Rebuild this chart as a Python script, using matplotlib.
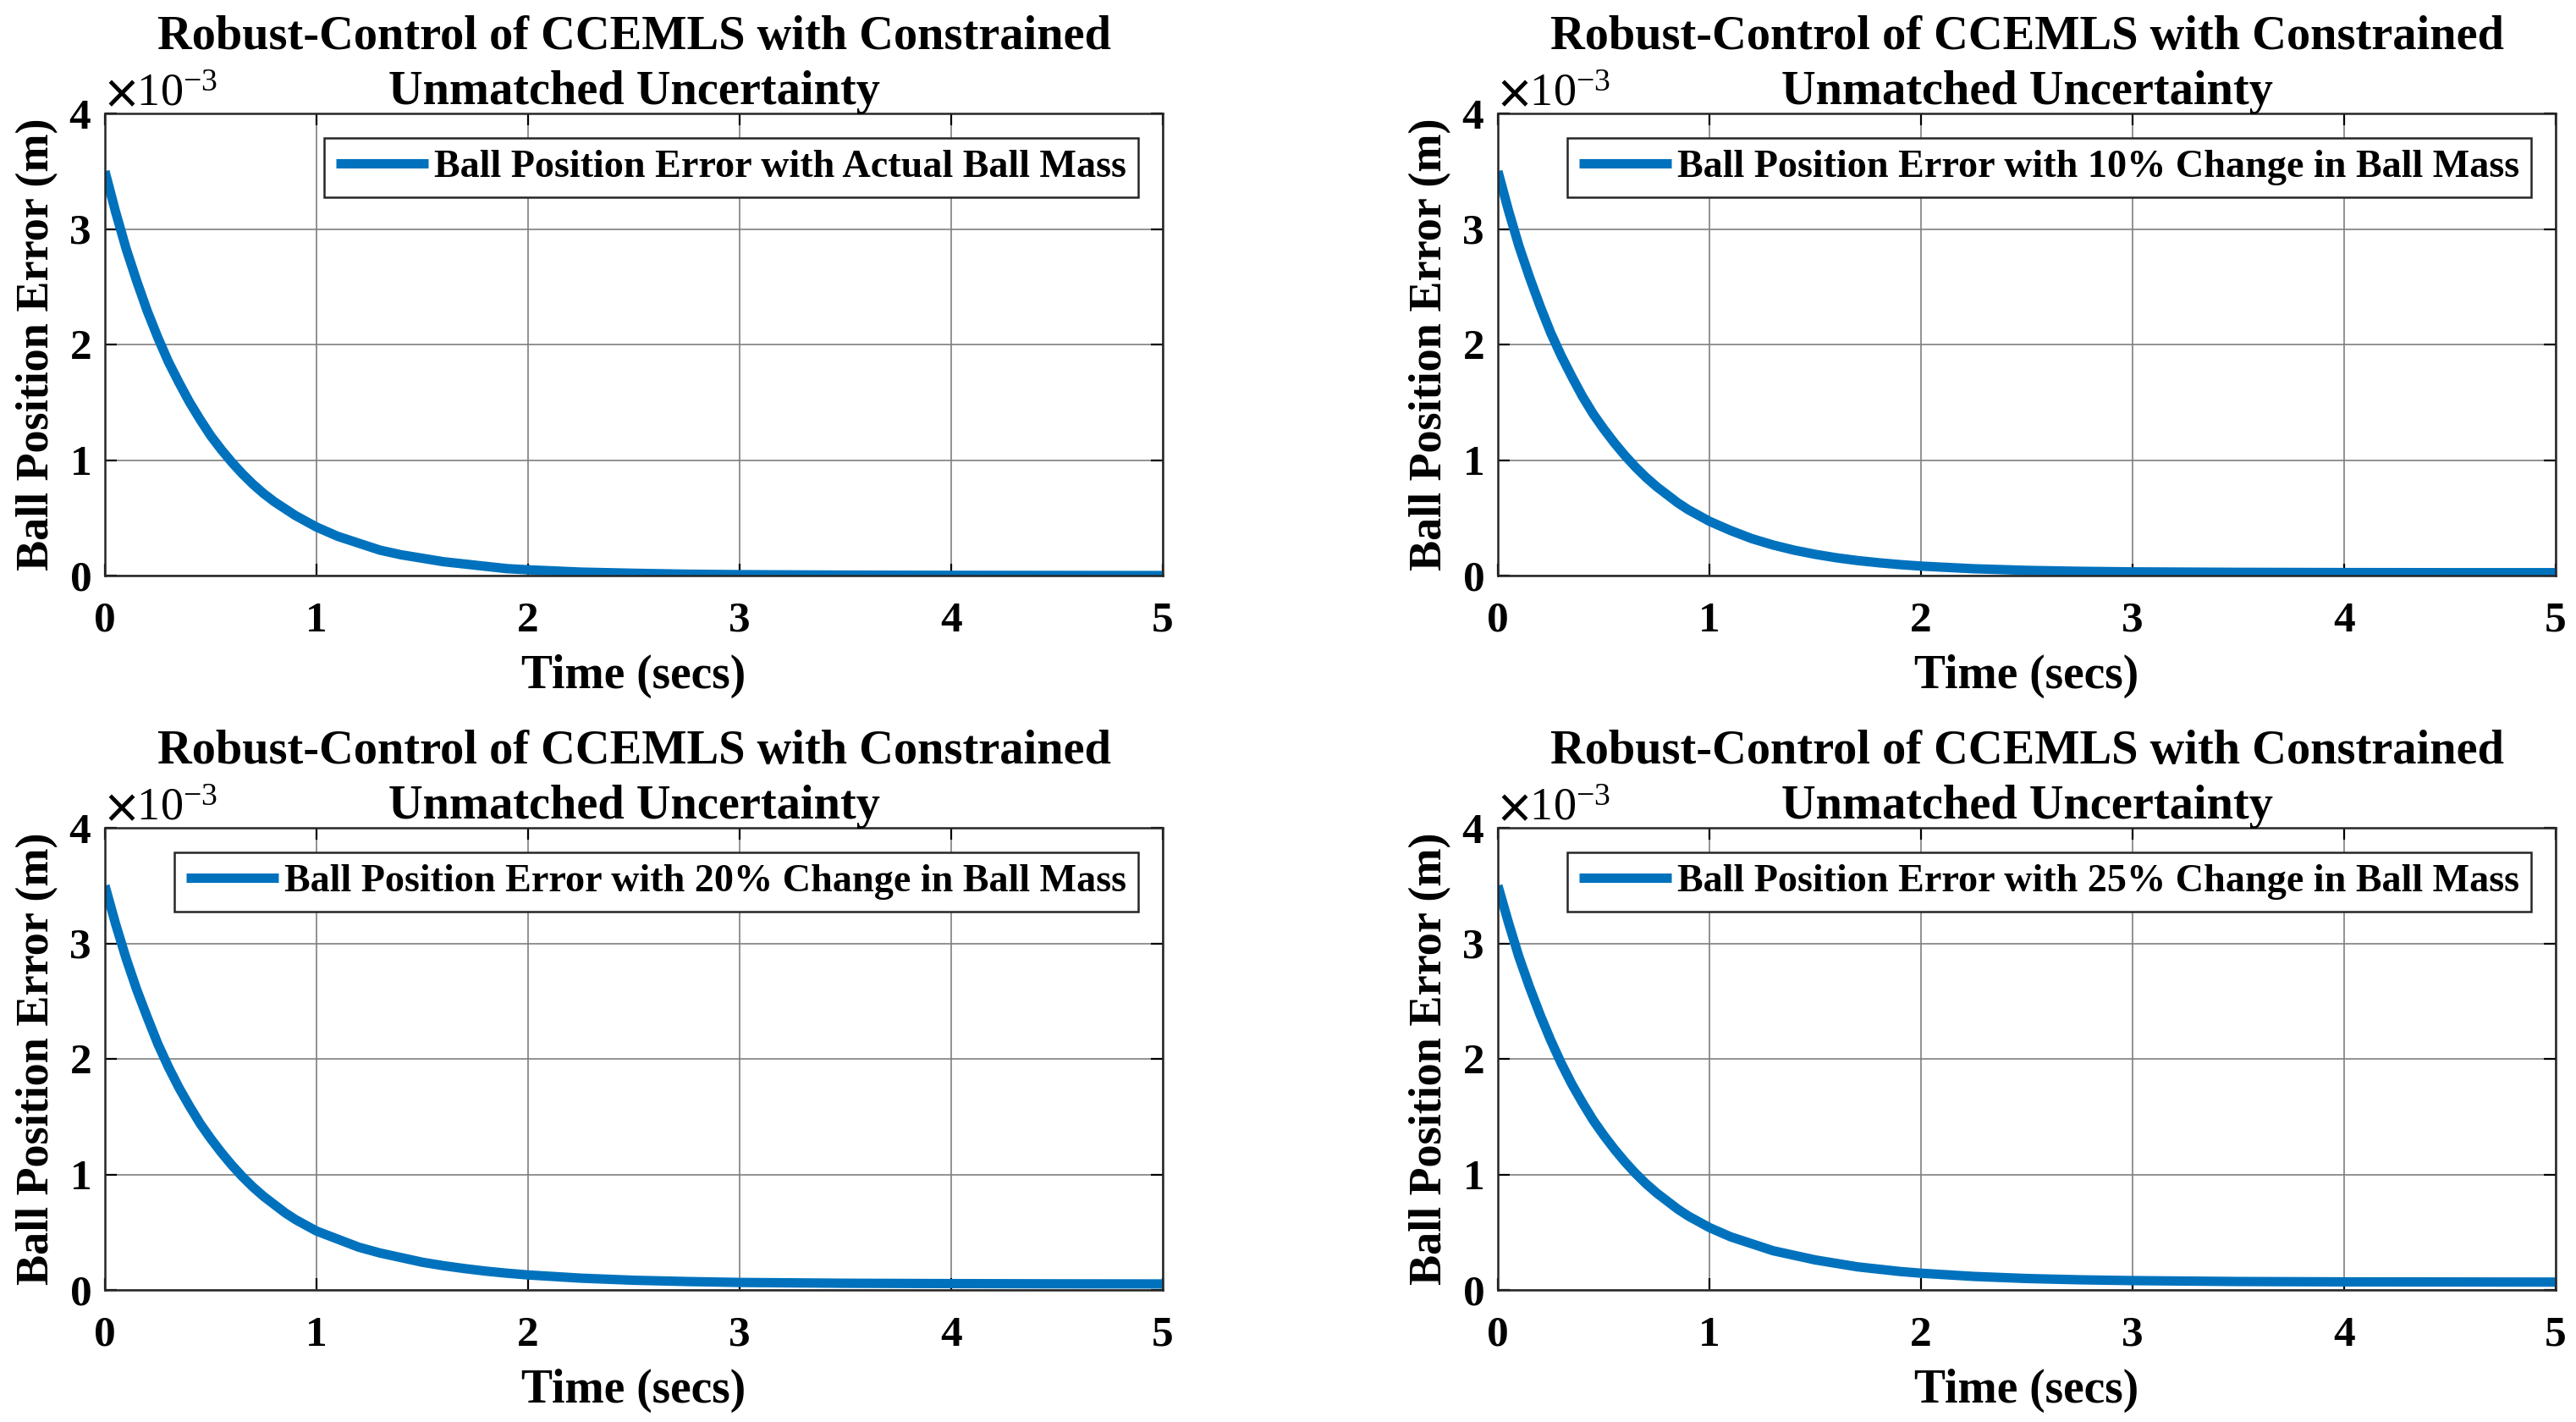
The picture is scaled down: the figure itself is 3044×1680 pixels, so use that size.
import matplotlib
matplotlib.use("Agg")
import matplotlib.pyplot as plt
from matplotlib.ticker import ScalarFormatter
import numpy as np

plt.rcParams['font.family'] = ['Liberation Serif', 'DejaVu Serif']
plt.rcParams['font.weight'] = 'bold'
plt.rcParams['mathtext.fontset'] = 'stix'

# time samples (s)
t = [0.00, 0.05, 0.10, 0.15, 0.20, 0.25, 0.30, 0.35, 0.40, 0.45, 0.50,
     0.55, 0.60, 0.65, 0.70, 0.75, 0.80, 0.85, 0.90, 0.95, 1.00,
     1.1, 1.2, 1.3, 1.4, 1.5, 1.6, 1.7, 1.8, 1.9, 2.0,
     2.25, 2.5, 2.75, 3.0, 3.5, 4.0, 4.5, 5.0]

# ball position error (x1e-3 m)
err_actual = [3.50, 3.15, 2.83, 2.55, 2.29, 2.06, 1.85, 1.67, 1.50, 1.35, 1.21,
              1.09, 0.98, 0.88, 0.79, 0.71, 0.64, 0.58, 0.52, 0.47, 0.42,
              0.34, 0.28, 0.22, 0.18, 0.15, 0.12, 0.10, 0.08, 0.06, 0.05,
              0.03, 0.02, 0.012, 0.008, 0.004, 0.002, 0.001, 0.0]
err_10 = [3.50, 3.16, 2.85, 2.58, 2.33, 2.10, 1.90, 1.72, 1.55, 1.40, 1.27,
          1.15, 1.04, 0.94, 0.85, 0.77, 0.70, 0.63, 0.57, 0.52, 0.47,
          0.39, 0.32, 0.265, 0.22, 0.184, 0.154, 0.13, 0.111, 0.095, 0.082,
          0.059, 0.045, 0.037, 0.032, 0.028, 0.026, 0.025, 0.025]
err_20 = [3.50, 3.17, 2.87, 2.60, 2.36, 2.13, 1.93, 1.75, 1.59, 1.44, 1.31,
          1.19, 1.08, 0.98, 0.89, 0.81, 0.74, 0.67, 0.61, 0.56, 0.51,
          0.44, 0.37, 0.32, 0.28, 0.24, 0.21, 0.185, 0.163, 0.145, 0.13,
          0.102, 0.084, 0.073, 0.065, 0.058, 0.055, 0.053, 0.052]
err_25 = [3.50, 3.18, 2.88, 2.62, 2.38, 2.16, 1.96, 1.78, 1.62, 1.47, 1.34,
          1.22, 1.11, 1.01, 0.92, 0.84, 0.77, 0.70, 0.64, 0.59, 0.54,
          0.46, 0.40, 0.34, 0.30, 0.26, 0.23, 0.20, 0.18, 0.16, 0.145,
          0.117, 0.099, 0.088, 0.081, 0.073, 0.070, 0.069, 0.068]

series = [err_actual, err_10, err_20, err_25]
legend_labels = [
    "Ball Position Error with Actual Ball Mass",
    "Ball Position Error with 10% Change in Ball Mass",
    "Ball Position Error with 20% Change in Ball Mass",
    "Ball Position Error with 25% Change in Ball Mass",
]
title_text = "Robust-Control of CCEMLS with Constrained\nUnmatched Uncertainty"
xlabel_text = "Time (secs)"
ylabel_text = "Ball Position Error (m)"
xticks = [0, 1, 2, 3, 4, 5]
yticks = [0, 1e-3, 2e-3, 3e-3, 4e-3]

fig = plt.figure(figsize=(15.22, 8.4), dpi=200)
W, H = 3044, 1680
lefts = [124, 1770, 124, 1770]
tops = [134, 134, 978, 978]
aw, ah = 1250, 546

for i in range(4):
    ax = fig.add_axes([lefts[i] / W, 1 - (tops[i] + ah) / H, aw / W, ah / H])
    y = np.array(series[i]) * 1e-3
    ax.plot(t, y, color='#0072BD', lw=4.0, label=legend_labels[i],
            solid_capstyle='butt', solid_joinstyle='round')
    ax.set_xlim(0, 5)
    ax.set_ylim(0, 4e-3)
    ax.set_xticks(xticks)
    ax.set_yticks(yticks)
    fmt = ScalarFormatter(useMathText=True)
    fmt.set_powerlimits((-2, 2))
    ax.yaxis.set_major_formatter(fmt)
    ax.yaxis.get_offset_text().set_fontsize(19.5)
    ax.yaxis.get_offset_text().set_fontweight('normal')
    ax.grid(True, color='#7f7f7f', lw=0.6)
    ax.tick_params(direction='in', length=5, width=0.8, labelsize=18.5,
                   top=True, right=True)
    ax.tick_params(axis='x', pad=11)
    ax.tick_params(axis='y', pad=6)
    for lab in ax.get_xticklabels() + ax.get_yticklabels():
        lab.set_fontweight('bold')
    for sp in ax.spines.values():
        sp.set_linewidth(0.9)
        sp.set_color('#262626')
    ax.set_title(title_text, fontsize=20.3, fontweight='bold', pad=4, y=1.0,
                 linespacing=1.33)
    ax.set_xlabel(xlabel_text, fontsize=20, fontweight='bold', labelpad=6)
    ax.set_ylabel(ylabel_text, fontsize=19.5, fontweight='bold', labelpad=4)
    leg = ax.legend(loc='upper right',
                    bbox_to_anchor=(1 - 29 / aw, 1 - 29 / ah),
                    borderaxespad=0, fancybox=False,
                    framealpha=1, edgecolor='#262626', handlelength=2.37,
                    handletextpad=0.15, borderpad=0.3,
                    prop={'weight': 'bold', 'size': 16.6})
    leg.get_frame().set_linewidth(0.9)

fig.savefig("out.png", dpi=200, facecolor='white')
